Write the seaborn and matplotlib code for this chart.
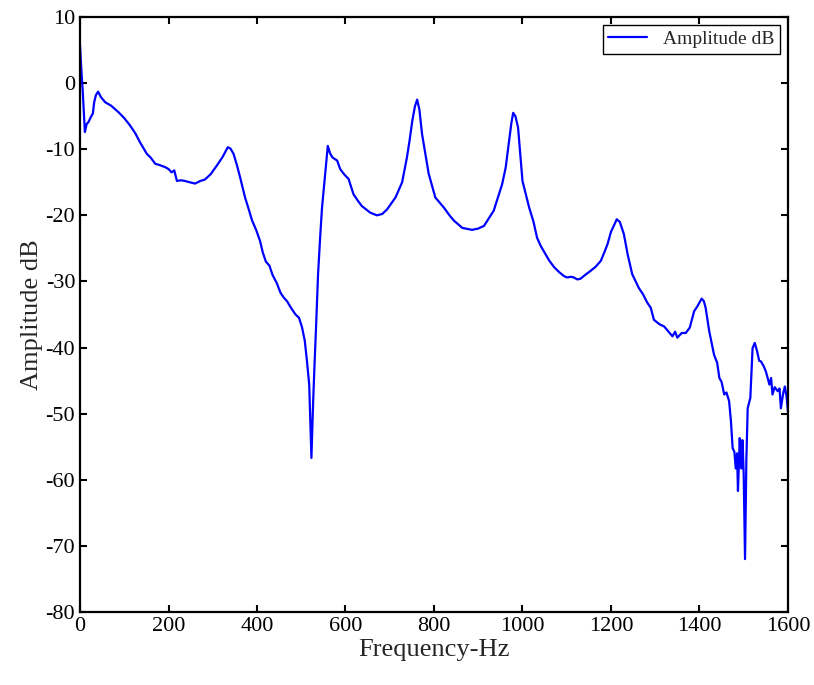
import numpy as np
import pandas as pd
import matplotlib
matplotlib.use("Agg")
import matplotlib.pyplot as plt
import seaborn as sns

# Dados (frequência em Hz, amplitude em dB)
freq_hz = [0, 3, 6, 11, 15, 19, 24, 29, 32, 36, 41, 47, 57, 70, 87, 100, 113, 125, 136,
           151, 160, 170, 180, 192, 200, 207, 213, 219, 228, 237, 248, 260, 272, 282, 295,
           309, 322, 334, 340, 347, 355, 362, 373, 380, 389, 398, 407, 413, 420, 428, 435, 445,
           453, 460, 468, 475, 487, 495, 502, 508, 513, 518, 523, 527, 530, 534, 538, 543,
           547, 554, 560, 565, 570, 576, 581, 588, 597, 607, 618, 628, 637, 656, 671, 683,
           694, 713, 728, 739, 745, 751, 757, 762, 767, 773, 780, 788, 803, 812, 822, 835,
           845, 864, 886, 900, 913, 935, 954, 962, 969, 975, 979, 984, 990, 1000, 1015,
           1025, 1033, 1041, 1048, 1060, 1071, 1083, 1094, 1101, 1110, 1116, 1124, 1131,
           1142, 1154, 1165, 1177, 1185, 1192, 1200, 1207, 1213, 1220, 1229, 1238, 1248,
           1256, 1263, 1272, 1282, 1290, 1297, 1310, 1320, 1330, 1339, 1345, 1350, 1360,
           1369, 1378, 1388, 1395, 1405, 1410, 1414, 1422, 1433, 1440, 1445, 1450, 1456,
           1461, 1467, 1471, 1475, 1479, 1482, 1485, 1487, 1489, 1491, 1493, 1495, 1497,
           1498, 1500, 1503, 1506, 1509, 1515, 1520, 1525, 1530, 1535, 1539, 1545, 1550,
           1555, 1558, 1562, 1565, 1570, 1577, 1581, 1584, 1589, 1593, 1597, 1600]
amplitude_db = [5.7, 2.0, -1.1, -7.4, -6.2, -5.9, -5.2, -4.6, -2.9, -1.8, -1.3, -2.1, -2.9,
                -3.4, -4.4, -5.3, -6.4, -7.6, -9.0, -10.7, -11.3, -12.2, -12.4, -12.7,
                -13.0, -13.5, -13.2, -14.8, -14.7, -14.8, -15.0, -15.2, -14.8, -14.6,
                -13.8, -12.5, -11.2, -9.7, -9.9, -10.7, -12.5, -14.3, -17.3, -18.8, -20.8,
                -22.2, -23.9, -25.6, -27.0, -27.6, -29.0, -30.3, -31.7, -32.4, -33.0, -33.8, -35.0,
                -35.5, -37.0, -39.0, -42.1, -45.6, -56.7, -48.0, -42.6, -36.0, -28.9, -23.0,
                -18.8, -13.7, -9.5, -10.6, -11.2, -11.5, -11.7, -13.0, -13.8, -14.5, -16.8,
                -17.8, -18.6, -19.6, -20.0, -19.8, -19.1, -17.3, -15.0, -11.2, -8.6, -5.7,
                -3.5, -2.5, -4.0, -7.7, -10.5, -13.7, -17.3, -18.0, -18.8, -20.0, -20.8,
                -21.9, -22.2, -22.0, -21.6, -19.3, -15.3, -12.8, -9.2, -6.0, -4.5, -5.0,
                -6.7, -14.8, -18.8, -21.0, -23.4, -24.6, -25.4, -26.8, -27.8, -28.6, -29.2,
                -29.4, -29.3, -29.4, -29.7, -29.6, -29.0, -28.4, -27.8, -26.9, -25.6,
                -24.4, -22.5, -21.5, -20.6, -21.0, -22.8, -26.0, -28.9, -30.0, -31.0, -31.9,
                -33.2, -34.0, -35.8, -36.5, -36.8, -37.6, -38.3, -37.6, -38.5, -37.8, -37.8,
                -37.0, -34.5, -33.8, -32.6, -33.0, -34.0, -37.5, -41.1, -42.3, -44.6, -45.2,
                -47.1, -46.8, -48.1, -51.0, -55.2, -55.8, -58.3, -56.0, -61.7, -58.0, -53.7,
                -56.5, -58.3, -54.0, -55.2, -59.3, -72.0, -57.0, -49.2, -47.6, -40.1, -39.3,
                -40.5, -42.0, -42.1, -42.8, -43.6, -44.8, -45.6, -44.6, -47.1, -46.0, -46.6,
                -46.2, -49.2, -47.0, -45.9, -47.5, -49.7]

df = pd.DataFrame({"freq": freq_hz, "amp": amplitude_db})

# Estética
sns.set_style("ticks")
plt.rcParams['font.family'] = ['Liberation Serif', 'DejaVu Serif']
plt.rcParams['axes.unicode_minus'] = False
plt.rcParams['xtick.direction'] = 'in'
plt.rcParams['ytick.direction'] = 'in'

fig = plt.figure(figsize=(8.14, 6.85), dpi=100)
ax = fig.add_axes([0.0983, 0.1066, 0.8697, 0.8686])

sns.lineplot(x='freq', y='amp', data=df, ax=ax, color='#0000ff', linewidth=1.6,
             label='Amplitude dB', sort=False)

ax.set_xlim(0, 1600)
ax.set_ylim(-80, 10)
ax.set_xticks(range(0, 1601, 200))
ax.set_yticks(range(-80, 11, 10))
ax.tick_params(axis='both', labelsize=16, width=1.5, length=5,
               top=True, right=True, colors='black')
for s in ax.spines.values():
    s.set_linewidth(1.6)
    s.set_color('black')

ax.set_xlabel('Frequency-Hz', fontsize=19, labelpad=2)
ax.set_ylabel('Amplitude dB', fontsize=19, labelpad=2)

leg = ax.legend(loc='upper right', fontsize=14, frameon=True, fancybox=False,
                edgecolor='black', framealpha=1, handlelength=2.0,
                borderaxespad=0.4, borderpad=0.3)
leg.get_frame().set_linewidth(1.0)

fig.savefig("out.png", dpi=100)
plt.close(fig)
